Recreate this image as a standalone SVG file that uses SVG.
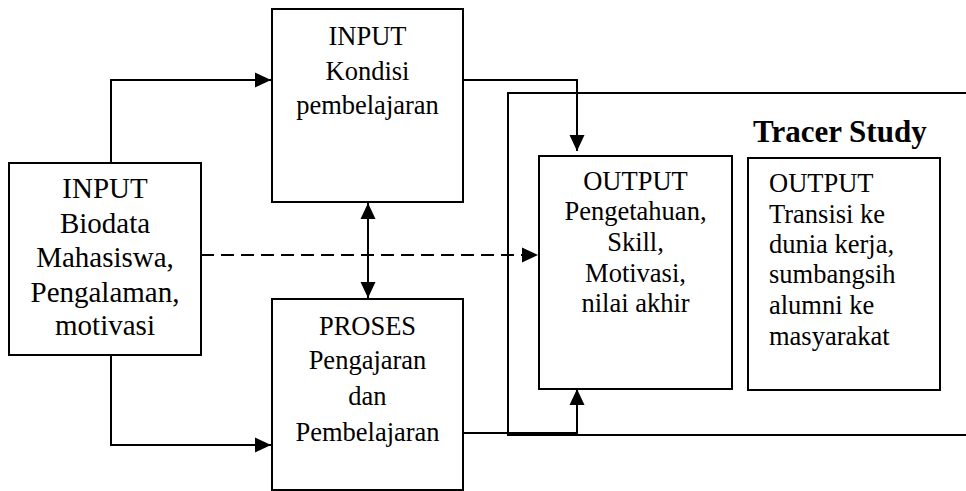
<svg xmlns="http://www.w3.org/2000/svg" width="966" height="491" viewBox="0 0 966 491">
<style>
.box{fill:#fff;stroke:#000;stroke-width:2}
.ln{fill:none;stroke:#000;stroke-width:2}
.c{text-anchor:middle}
</style>
<defs>
<marker id="a" viewBox="0 0 16 16" refX="16" refY="8" markerWidth="16" markerHeight="16" markerUnits="userSpaceOnUse" orient="auto-start-reverse">
<path d="M0,0.5 L16,8 L0,15.5 z" fill="#000"/>
</marker>
</defs>
<rect width="966" height="491" fill="#fff"/>
<g font-family="'Liberation Serif', 'Times New Roman', serif" fill="#000">
<g id="tracer-frame">
<path class="ln" d="M966,93 H508 V435 H966"/>
<text x="753" y="142" font-size="31" font-weight="bold">Tracer Study</text>
</g>
<g id="connectors">
<path class="ln" d="M111,163 V80 H271" marker-end="url(#a)"/>
<path class="ln" d="M111,355 V445 H271" marker-end="url(#a)"/>
<path class="ln" d="M368,203 V298" marker-start="url(#a)" marker-end="url(#a)"/>
<path class="ln" d="M201,255 H538" stroke-dasharray="13,7" marker-end="url(#a)"/>
<path class="ln" d="M463,80 H577 V151" marker-end="url(#a)"/>
<path class="ln" d="M463,433 H577 V389" marker-end="url(#a)"/>
</g>
<g id="input-biodata" font-size="29">
<rect class="box" x="9" y="163" width="192" height="192"/>
<text class="c" x="105" y="198">INPUT</text>
<text class="c" x="105" y="233">Biodata</text>
<text class="c" x="105" y="267">Mahasiswa,</text>
<text class="c" x="105" y="302">Pengalaman,</text>
<text class="c" x="105" y="335">motivasi</text>
</g>
<g id="input-kondisi" font-size="26.5">
<rect class="box" x="272" y="9" width="191" height="193"/>
<text class="c" x="367.5" y="45">INPUT</text>
<text class="c" x="367.5" y="80">Kondisi</text>
<text class="c" x="367.5" y="114">pembelajaran</text>
</g>
<g id="proses" font-size="26.5">
<rect class="box" x="272" y="299" width="191" height="191"/>
<text class="c" x="367.5" y="335">PROSES</text>
<text class="c" x="367.5" y="369">Pengajaran</text>
<text class="c" x="367.5" y="405">dan</text>
<text class="c" x="367.5" y="441">Pembelajaran</text>
</g>
<g id="output-1" font-size="26.5">
<rect class="box" x="539" y="156" width="193" height="233"/>
<text class="c" x="635.5" y="190">OUTPUT</text>
<text class="c" x="635.5" y="220">Pengetahuan,</text>
<text class="c" x="635.5" y="251">Skill,</text>
<text class="c" x="635.5" y="282">Motivasi,</text>
<text class="c" x="635.5" y="312">nilai akhir</text>
</g>
<g id="output-2" font-size="26.5">
<rect class="box" x="748" y="158" width="192" height="232"/>
<text x="769" y="192">OUTPUT</text>
<text x="769" y="223">Transisi ke</text>
<text x="769" y="253">dunia kerja,</text>
<text x="769" y="283">sumbangsih</text>
<text x="769" y="314">alumni ke</text>
<text x="769" y="345">masyarakat</text>
</g>
</g>
</svg>
